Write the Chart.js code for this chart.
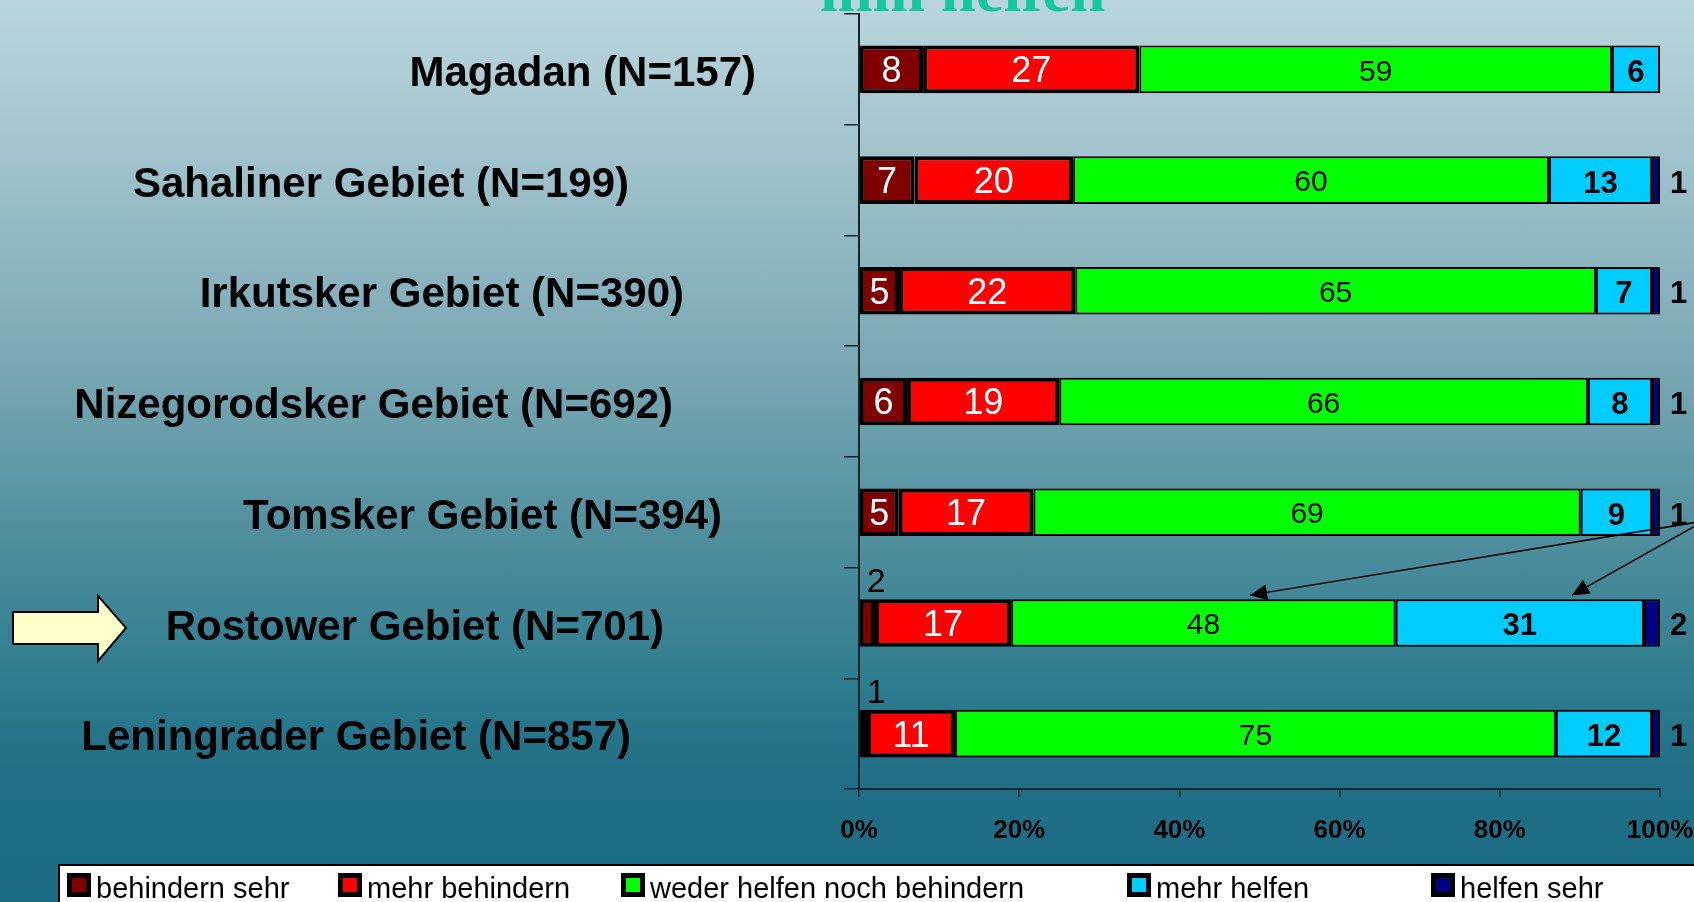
<!DOCTYPE html>
<html>
<head>
<meta charset="utf-8">
<script src="https://cdn.jsdelivr.net/npm/chart.js@4/dist/chart.umd.min.js"></script>
<style>
  html, body { margin: 0; padding: 0; }
  body {
    width: 1694px; height: 902px; overflow: hidden;
    background: linear-gradient(to bottom, #bad6dc 0%, #9cc0ca 20%, #7aa8b4 40%, #4f8e9d 60%, #2f7d8f 75%, #206f86 86%, #1b6d84 100%);
  }
  canvas { display: block; }
</style>
</head>
<body>
<canvas id="chart" width="1694" height="902"></canvas>
<script>
const regions = [
  'Magadan (N=157)',
  'Sahaliner Gebiet (N=199)',
  'Irkutsker Gebiet (N=390)',
  'Nizegorodsker Gebiet (N=692)',
  'Tomsker Gebiet (N=394)',
  'Rostower Gebiet (N=701)',
  'Leningrader Gebiet (N=857)'
];
const seriesNames = ['behindern sehr', 'mehr behindern', 'weder helfen noch behindern', 'mehr helfen', 'helfen sehr'];
const behindernSehr = [8, 7, 5, 6, 5, 2, 1];
const mehrBehindern = [27, 20, 22, 19, 17, 17, 11];
const weder = [59, 60, 65, 66, 69, 48, 75];
const mehrHelfen = [6, 13, 7, 8, 9, 31, 12];
const helfenSehr = [0, 1, 1, 1, 1, 2, 1];
const xTicks = [0, 20, 40, 60, 80, 100];
const titleText = 'ihm helfen';

const colors = ['#800000', '#ff0000', '#00ff00', '#00ccff', '#000080'];
const borderWidths = [4, 4, 2, 2, 2];
// right edges of the region labels (they sit in separate text boxes on the slide)
const labelRight = [756, 629, 684, 673, 722, 664, 631];
// legend columns
const legendX = [67, 338, 621, 1127, 1431];
const FONT = '"Liberation Sans", Arial, sans-serif';

const series = [behindernSehr, mehrBehindern, weder, mehrHelfen, helfenSehr];
const rowSums = regions.map((_, i) => series.reduce((s, arr) => s + arr[i], 0));

const datasets = series.map((values, k) => ({
  label: seriesNames[k],
  values,
  data: values.map((v, i) => v / rowSums[i] * 100),
  backgroundColor: colors[k],
  borderColor: '#000',
  borderWidth: borderWidths[k],
  borderSkipped: false,
  categoryPercentage: 1,
  barPercentage: 0.43
}));

const decorPlugin = {
  id: 'decor',
  afterDraw(chart) {
    const ctx = chart.ctx;
    const area = chart.chartArea;
    const yScale = chart.scales.y;
    ctx.save();

    // title remainder cut at top
    ctx.fillStyle = '#14c89c';
    ctx.font = 'bold 63px "Liberation Serif", "Times New Roman", serif';
    ctx.textAlign = 'left';
    ctx.textBaseline = 'alphabetic';
    ctx.fillText(titleText, 820, 11);

    // region labels
    ctx.fillStyle = '#000';
    ctx.font = 'bold 42px ' + FONT;
    ctx.textAlign = 'right';
    ctx.textBaseline = 'middle';
    regions.forEach((r, i) => {
      ctx.fillText(r, labelRight[i], yScale.getPixelForValue(i) + 5);
    });

    // segment labels
    chart.data.datasets.forEach((ds, k) => {
      const meta = chart.getDatasetMeta(k);
      meta.data.forEach((bar, i) => {
        const v = ds.values[i];
        if (!v) return;
        const cx = (bar.x + bar.base) / 2;
        const top = bar.y - bar.height / 2;
        ctx.textBaseline = 'middle';
        ctx.textAlign = 'center';
        if (k === 0) {
          if (v < 3) {
            ctx.fillStyle = '#000';
            ctx.font = '34px ' + FONT;
            ctx.textAlign = 'left';
            ctx.textBaseline = 'alphabetic';
            ctx.fillText(String(v), bar.base + 7, top - 7);
          } else {
            ctx.fillStyle = '#fff';
            ctx.font = '36px ' + FONT;
            ctx.fillText(String(v), cx, bar.y + 3);
          }
        } else if (k === 1) {
          ctx.fillStyle = '#fff';
          ctx.font = '36px ' + FONT;
          ctx.fillText(String(v), cx, bar.y + 3);
        } else if (k === 2) {
          ctx.fillStyle = '#000';
          ctx.font = '30px ' + FONT;
          ctx.fillText(String(v), cx, bar.y + 3);
        } else if (k === 3) {
          ctx.fillStyle = '#000';
          ctx.font = 'bold 31px ' + FONT;
          ctx.fillText(String(v), cx, bar.y + 4);
        } else {
          ctx.fillStyle = '#000';
          ctx.font = 'bold 31px ' + FONT;
          ctx.textAlign = 'left';
          ctx.fillText(String(v), area.right + 10, bar.y + 4);
        }
      });
    });

    // pointer arrows from the right margin to the Rostower bar
    const rost = chart.getDatasetMeta(2).data[5];
    const rostTop = rost.y - rost.height / 2;
    const arrow = (x0, y0, x1, y1) => {
      ctx.strokeStyle = '#000';
      ctx.lineWidth = 1.5;
      ctx.beginPath();
      ctx.moveTo(x0, y0);
      ctx.lineTo(x1, y1);
      ctx.stroke();
      const a = Math.atan2(y1 - y0, x1 - x0);
      const L = 17, W = 8;
      ctx.fillStyle = '#000';
      ctx.beginPath();
      ctx.moveTo(x1, y1);
      ctx.lineTo(x1 - L * Math.cos(a) + W * Math.sin(a), y1 - L * Math.sin(a) - W * Math.cos(a));
      ctx.lineTo(x1 - L * Math.cos(a) - W * Math.sin(a), y1 - L * Math.sin(a) + W * Math.cos(a));
      ctx.closePath();
      ctx.fill();
    };
    arrow(1704, 521, 1250, rostTop - 4);
    arrow(1704, 521, 1572, rostTop - 4);

    // big yellow block arrow pointing at Rostower
    const ay = yScale.getPixelForValue(5) + 5;
    ctx.fillStyle = '#ffffcc';
    ctx.strokeStyle = '#000';
    ctx.lineWidth = 2;
    ctx.beginPath();
    ctx.moveTo(13, ay - 16);
    ctx.lineTo(98, ay - 16);
    ctx.lineTo(98, ay - 32);
    ctx.lineTo(126, ay);
    ctx.lineTo(98, ay + 33);
    ctx.lineTo(98, ay + 16);
    ctx.lineTo(13, ay + 16);
    ctx.closePath();
    ctx.fill();
    ctx.stroke();

    // legend box
    ctx.fillStyle = '#fff';
    ctx.fillRect(59, 865, 1700, 50);
    ctx.strokeStyle = '#000';
    ctx.lineWidth = 2;
    ctx.beginPath();
    ctx.moveTo(59, 910);
    ctx.lineTo(59, 865);
    ctx.lineTo(1700, 865);
    ctx.stroke();
    chart.data.datasets.forEach((ds, k) => {
      const x = legendX[k];
      ctx.fillStyle = '#000';
      ctx.fillRect(x, 873, 24, 24);
      ctx.fillStyle = ds.backgroundColor;
      ctx.fillRect(x + 5, 878, 14, 14);
      ctx.fillStyle = '#000';
      ctx.font = '29px ' + FONT;
      ctx.textAlign = 'left';
      ctx.textBaseline = 'alphabetic';
      ctx.fillText(ds.label, x + 29, 898);
    });

    ctx.restore();
  }
};

new Chart(document.getElementById('chart'), {
  type: 'bar',
  data: { labels: regions, datasets },
  options: {
    indexAxis: 'y',
    responsive: false,
    animation: false,
    events: [],
    layout: { padding: { top: 14, right: 34, left: 0, bottom: 0 } },
    plugins: { legend: { display: false }, tooltip: { enabled: false } },
    scales: {
      x: {
        stacked: true,
        min: 0,
        max: 100,
        afterFit: (s) => { s.height = 113; s.paddingLeft = 0; s.paddingRight = 0; },
        afterBuildTicks: (s) => { s.ticks = xTicks.map((v) => ({ value: v })); },
        border: { color: '#13262c', width: 2 },
        grid: { drawOnChartArea: false, color: '#13262c', tickLength: 8, lineWidth: 1.5 },
        ticks: {
          color: '#000',
          font: { family: FONT, size: 26, weight: 'bold' },
          padding: 18,
          maxRotation: 0,
          callback: (v) => v + '%'
        }
      },
      y: {
        stacked: true,
        afterFit: (s) => { s.width = 859; s.paddingTop = 0; s.paddingBottom = 0; },
        border: { color: '#13262c', width: 2 },
        grid: { drawOnChartArea: false, color: '#13262c', tickLength: 15, lineWidth: 1.5 },
        ticks: { display: false }
      }
    }
  },
  plugins: [decorPlugin]
});
</script>
</body>
</html>
